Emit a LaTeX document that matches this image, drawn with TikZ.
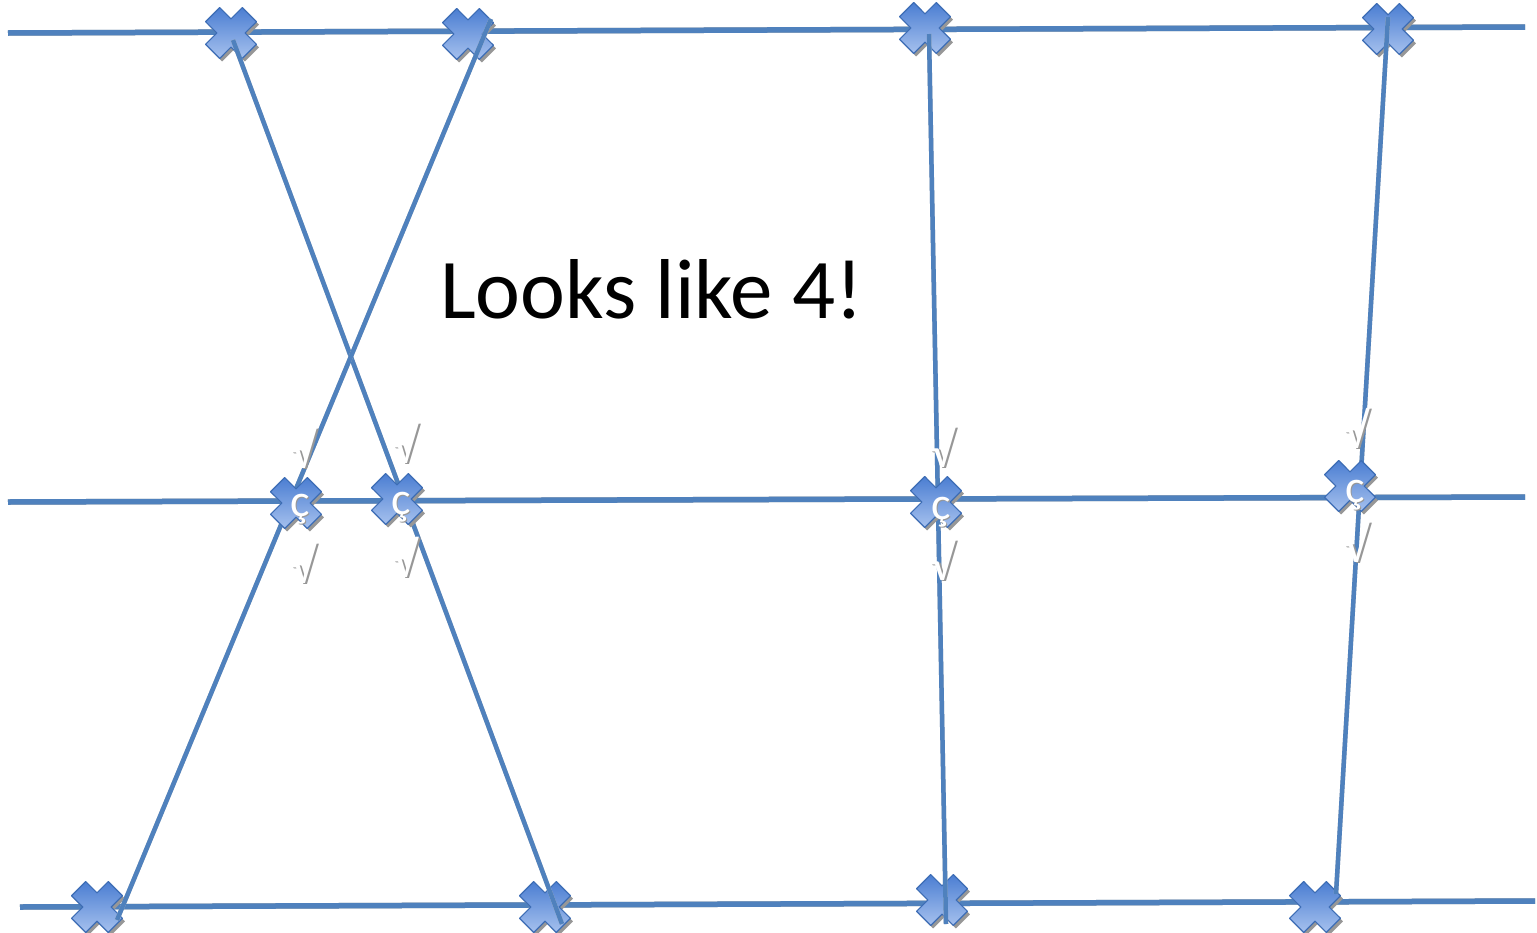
\documentclass[tikz,border=0pt]{standalone}
\usepackage{fontspec}
\setmainfont{Carlito}
\definecolor{lineblue}{HTML}{4F81BD}
\definecolor{shadowgray}{HTML}{979797}
\definecolor{mkTop}{HTML}{A6C1EE}
\definecolor{mkBot}{HTML}{4B7ED2}
\definecolor{mkBorder}{HTML}{3D6DB5}
\newcommand\shadtext[5]{% name, x, y, text, size
  \node[txt, text=shadowgray] at (#2+1.5,#3+1.5) {\fontsize{#5}{#5}\selectfont #4};
  \node[txt, text=white] (#1) at (#2,#3) {\fontsize{#5}{#5}\selectfont #4};}
\begin{document}
\begin{tikzpicture}[x=1pt,y=-1pt,
  hline/.style={line width=5.5pt, lineblue},
  hshadow/.style={line width=5.5pt, shadowgray, shift={(0.5,3.5)}},
  vline/.style={line width=4.5pt, lineblue},
  vshadow/.style={line width=4.5pt, shadowgray!60, shift={(1.5,1.5)}},
  txt/.style={inner sep=0pt},
  xmark/.pic={
    \fill[shadowgray, shift={(2.5,3)}] (-11.31,25.46) -- (0,14.14) -- (11.31,25.46) -- (25.46,11.31) -- (14.14,0) -- (25.46,-11.31) -- (11.31,-25.46) -- (0,-14.14) -- (-11.31,-25.46) -- (-25.46,-11.31) -- (-14.14,0) -- (-25.46,11.31) -- cycle;
    \shade[top color=mkBot, bottom color=mkTop, draw=mkBorder, line width=1.2pt, line join=round] (-11.31,25.46) -- (0,14.14) -- (11.31,25.46) -- (25.46,11.31) -- (14.14,0) -- (25.46,-11.31) -- (11.31,-25.46) -- (0,-14.14) -- (-11.31,-25.46) -- (-25.46,-11.31) -- (-14.14,0) -- (-25.46,11.31) -- cycle;
  }]
\useasboundingbox (0,0) rectangle (1537,932);
% horizontal line ends
\coordinate (tL) at (8,33);   \coordinate (tR) at (1525,27);
\coordinate (mL) at (8,502);  \coordinate (mR) at (1525,497);
\coordinate (bL) at (20,907); \coordinate (bR) at (1535,901);
% marker positions
\coordinate (t1) at (231,33); \coordinate (t2) at (468,34); \coordinate (t3) at (925,28); \coordinate (t4) at (1388,29);
\coordinate (m1) at (296,503); \coordinate (m2) at (397,499); \coordinate (m3) at (936,502); \coordinate (m4) at (1350,486);
\coordinate (b1) at (97,907); \coordinate (b2) at (545,907); \coordinate (b3) at (942,900); \coordinate (b4) at (1315,907);
% slanted line ends
\coordinate (aS) at (233,40);  \coordinate (aE) at (562,924);
\coordinate (bS) at (491,19);  \coordinate (bE) at (117,920);
\coordinate (cS) at (929,34);  \coordinate (cE) at (946,924);
\coordinate (dS) at (1388,17); \coordinate (dE) at (1336,894);
% horizontal lines
\foreach \a/\b in {tL/tR, mL/mR, bL/bR}{
  \draw[hshadow] (\a) -- (\b);
  \draw[hline] (\a) -- (\b);
}
% top and bottom markers
\foreach \p in {t1,t2,t3,t4,b1,b2,b3,b4}{ \pic at (\p) {xmark}; }
% slanted lines
\foreach \a/\b in {aS/aE, bS/bE, cS/cE, dS/dE}{
  \draw[vshadow] (\a) -- (\b);
  \draw[vline] (\a) -- (\b);
}
% middle markers
\foreach \p in {m1,m2,m3,m4}{ \pic at (\p) {xmark}; }
% title
\node[txt, anchor=base west] (title) at (440,318) {\fontsize{85}{85}\selectfont Looks like 4!};
% small marks
\shadtext{v1a}{303}{448}{√}{50}
\shadtext{v1b}{303}{563}{√}{50}
\shadtext{v2a}{405}{443}{√}{50}
\shadtext{v2b}{405}{557}{√}{50}
\shadtext{v3a}{942}{447}{√}{50}
\shadtext{v3b}{942}{560}{√}{50}
\shadtext{v4a}{1356}{428}{√}{50}
\shadtext{v4b}{1356}{542}{√}{50}
\shadtext{c1}{300}{509}{ç}{46}
\shadtext{c2}{401}{507}{ç}{46}
\shadtext{c3}{941}{512}{ç}{46}
\shadtext{c4}{1355}{495}{ç}{46}
\end{tikzpicture}
\end{document}
